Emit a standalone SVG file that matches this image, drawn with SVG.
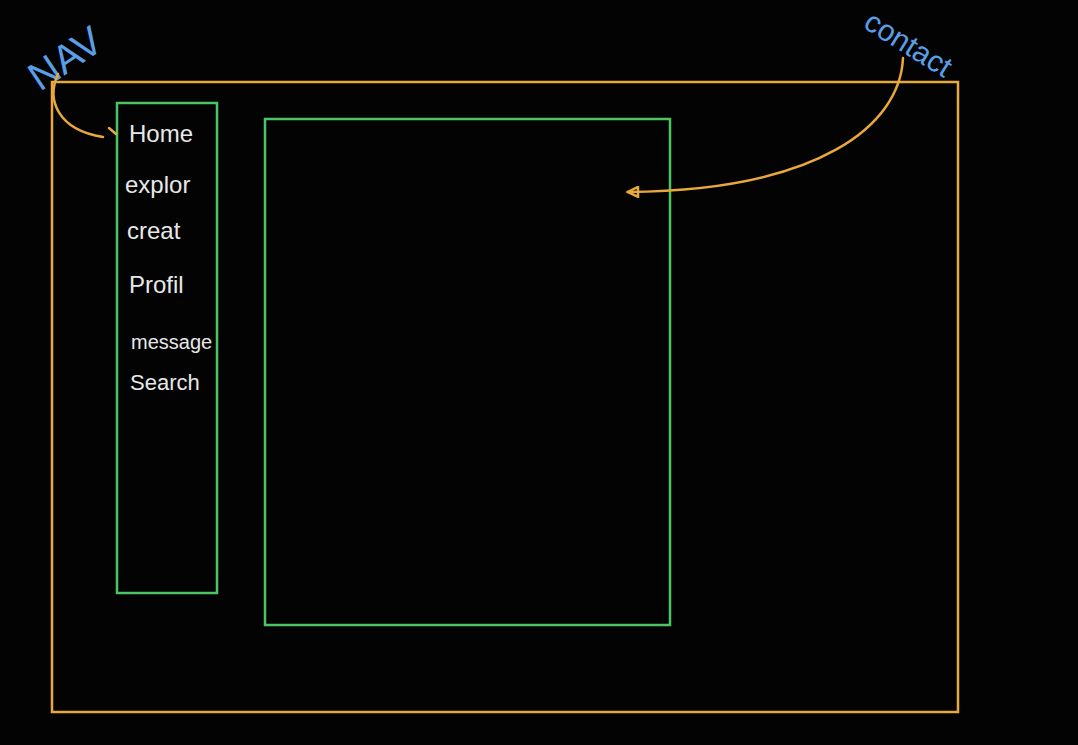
<svg xmlns="http://www.w3.org/2000/svg" width="1078" height="745" viewBox="0 0 1078 745">
<defs>
<style>
.frame{fill:none;stroke:#e8a83c;stroke-width:2.5}
.box{fill:none;stroke:#4cc462;stroke-width:2.5}
.conn{fill:none;stroke:#e8a83c;stroke-width:2.5;stroke-linecap:round}
.lbl{fill:#5a9ee8;font-family:"Liberation Sans",sans-serif;font-size:34px}
.item{fill:#e8e8e8;font-family:"Liberation Sans",sans-serif;font-size:24px}
</style>
<marker id="ah" markerWidth="14" markerHeight="12" refX="12" refY="6" orient="auto" markerUnits="userSpaceOnUse">
<path d="M2 1 L12 6 L2 11 Z" fill="none" stroke="#e8a83c" stroke-width="2.5"/>
</marker>
</defs>
<rect width="1078" height="745" fill="#030303"/>
<g id="page">
<rect class="frame" x="52" y="82" width="906" height="630"/>
</g>
<g id="nav">
<rect class="box" x="117" y="103" width="100" height="490"/>
<text class="item" x="129" y="142">Home</text>
<text class="item" x="125" y="193">explor</text>
<text class="item" x="127" y="239">creat</text>
<text class="item" x="129" y="293">Profil</text>
<text class="item" x="131" y="349" style="font-size:20px">message</text>
<text class="item" x="130" y="390" style="font-size:22px">Search</text>
</g>
<g id="content">
<rect class="box" x="265" y="119" width="405" height="506"/>
</g>
<g id="labels">
<text class="lbl" style="font-size:40px" transform="translate(40,92) rotate(-34)">NAV</text>
<text class="lbl" style="font-size:30px" transform="translate(862,27) rotate(32)">contact</text>
</g>
<g id="connectors">
<path class="conn" d="M58 74 C46 100 58 130 103 137"/>
<path class="conn" d="M109 128 L116 134"/>
<path class="conn" d="M903 58 C900 125 820 190 628 192" marker-end="url(#ah)"/>
</g>
</svg>
